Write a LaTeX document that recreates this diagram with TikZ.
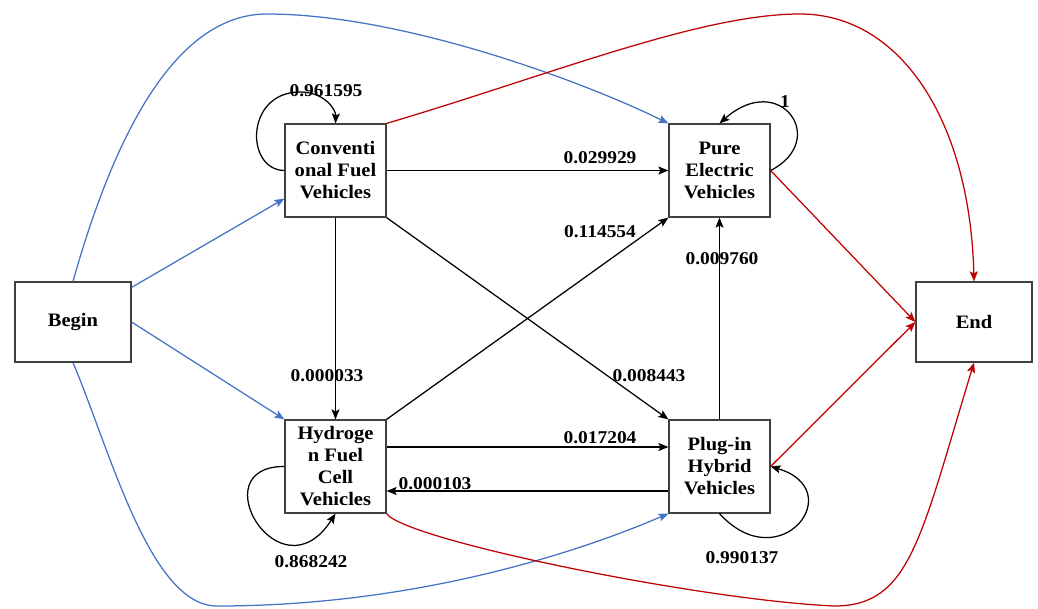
\documentclass[tikz,border=0pt]{standalone}
\usepackage{fontspec}
\setmainfont{Liberation Serif}[FakeStretch=1.08]
\usetikzlibrary{arrows.meta,calc}
\definecolor{eblue}{HTML}{4472C4}
\definecolor{ered}{HTML}{C00000}
\definecolor{boxgray}{HTML}{404040}
\begin{document}
\begin{tikzpicture}[x=1pt,y=-1pt,
  box/.style={draw=boxgray,line width=1.2pt,fill=white,minimum width=101pt,minimum height=93pt,inner sep=0pt,align=center,font=\fontsize{19}{22}\selectfont\bfseries},
  bigbox/.style={box,minimum width=116pt,minimum height=80pt},
  lbl/.style={font=\fontsize{18}{20}\selectfont\bfseries,inner sep=0pt},
  edge/.style={line width=1.25pt,-{Stealth[length=10pt,width=8pt,inset=2pt]}},
  bedge/.style={edge,draw=eblue},
  redge/.style={edge,draw=ered}]
\useasboundingbox (0,0) rectangle (1038,608);
\node[bigbox] (begin) at (73,322) {Begin};
\node[bigbox] (end) at (974,322) {End};
\node[box] (conv) at (335.5,170.5) {Conventi\\onal Fuel\\Vehicles};
\node[box] (pure) at (719.5,170.5) {Pure\\Electric\\Vehicles};
\node[box] (hyd) at (335.5,466.5) {Hydroge\\n Fuel\\Cell\\Vehicles};
\node[box] (plug) at (719.5,466.5) {Plug-in\\Hybrid\\Vehicles};
% blue edges from Begin
\draw[bedge] ($(begin.north east)+(0,6)$) -- ($(conv.south west)+(0,-19)$);
\draw[bedge] (begin.east) -- (hyd.north west);
\draw[bedge] (begin.north) .. controls (110,150) and (170,14) .. (267,14) .. controls (400,14) and (580,80) .. (pure.north west);
\draw[bedge] (begin.south) .. controls (110,450) and (150,606) .. (217,606) .. controls (400,606) and (560,560) .. (plug.south west);
% red edges to End
\draw[redge] (conv.north east) .. controls (550,75) and (700,14) .. (800,14) .. controls (900,14) and (970,120) .. (end.north);
\draw[redge] (pure.east) -- (end.west);
\draw[redge] (plug.east) -- (end.west);
\draw[redge] (hyd.south east) .. controls (405,540) and (700,600) .. (834,606) .. controls (910,606) and (920,540) .. (end.south);
% black edges
\draw[edge] (conv.east) -- (pure.west);
\draw[edge] (conv.south) -- (hyd.north);
\draw[edge] (conv.south east) -- (plug.north west);
\draw[edge] (hyd.north east) -- (pure.south west);
\draw[edge] (plug.north) -- (pure.south);
\draw[edge] ($(hyd.east)+(0,-19.5)$) -- ($(plug.west)+(0,-19.5)$);
\draw[edge] ($(plug.west)+(0,24.5)$) -- ($(hyd.east)+(0,24.5)$);
% loops
\draw[edge] (conv.west) .. controls (245,170) and (245,92) .. (300,92) .. controls (325,92) and (336,110) .. (conv.north);
\draw[edge] (pure.east) .. controls (830,140) and (780,70) .. (pure.north);
\draw[edge] (hyd.west) .. controls (200,466) and (280,600) .. (hyd.south);
\draw[edge] (plug.south) .. controls (780,580) and (850,490) .. (plug.east);
% labels
\node[lbl] (l1) at (326,91) {0.961595};
\node[lbl] (l2) at (785,102) {1};
\node[lbl] (l3) at (600,158) {0.029929};
\node[lbl] (l4) at (600,232) {0.114554};
\node[lbl] (l5) at (722,259) {0.009760};
\node[lbl] (l6) at (327,376) {0.000033};
\node[lbl] (l7) at (649,376) {0.008443};
\node[lbl] (l8) at (600,438) {0.017204};
\node[lbl] (l9) at (435,484) {0.000103};
\node[lbl] (l10) at (311,562) {0.868242};
\node[lbl] (l11) at (742,558) {0.990137};
\end{tikzpicture}
\end{document}
